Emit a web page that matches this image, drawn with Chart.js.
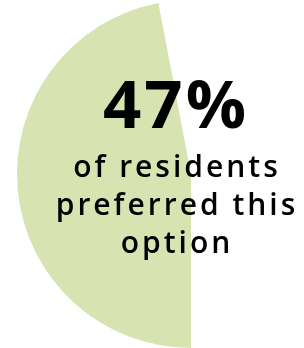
<!DOCTYPE html>
<html>
<head>
<meta charset="utf-8">
<script src="https://cdn.jsdelivr.net/npm/chart.js@4/dist/chart.umd.min.js"></script>
<style>
  html, body { margin: 0; padding: 0; background: #fff; overflow: hidden; }
  #wrap { width: 382px; height: 348px; }
</style>
</head>
<body>
<div id="wrap"><canvas id="pieChart" width="382" height="348"></canvas></div>
<script>
const labels = ['Preferred this option', 'Other'];
const values = [47, 53];
const sliceColors = ['#d7e4b1', 'rgba(255,255,255,0)'];
const headline = '47%';
const captionLines = ['of residents', 'preferred this', 'option'];

// draws the big number and the caption over the pie
const centerText = {
  id: 'centerText',
  afterDraw(chart) {
    const ctx = chart.ctx;
    ctx.save();
    ctx.fillStyle = '#000';
    ctx.textAlign = 'center';
    ctx.textBaseline = 'alphabetic';
    ctx.font = 'bold 67px "Open Sans"';
    ctx.letterSpacing = '3px';
    ctx.fillText(headline, 176, 128);
    ctx.font = '600 30px "Open Sans"';
    ctx.letterSpacing = '3px';
    captionLines.forEach((line, i) => {
      ctx.fillText(line, 177, 177 + i * 38);
    });
    ctx.restore();
  }
};

const ctx = document.getElementById('pieChart');

new Chart(ctx, {
  type: 'pie',
  data: {
    labels: labels,
    datasets: [{
      data: values,
      backgroundColor: sliceColors,
      borderWidth: 0
    }]
  },
  options: {
    responsive: false,
    animation: { duration: 0 },
    rotation: 180,
    layout: { padding: 0 },
    plugins: {
      legend: { display: false },
      tooltip: { enabled: false }
    }
  },
  plugins: [centerText]
});
</script>
</body>
</html>
